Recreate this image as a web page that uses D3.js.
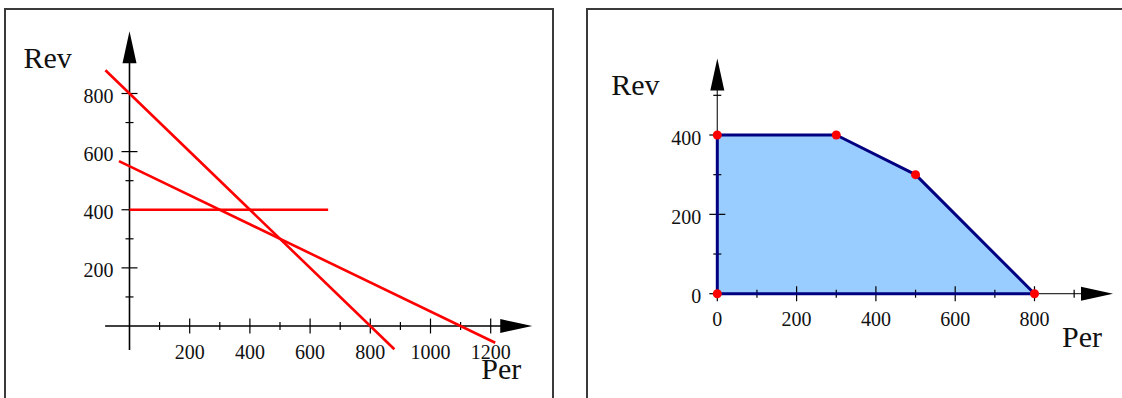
<!DOCTYPE html>
<html>
<head>
<meta charset="utf-8">
<script src="https://cdn.jsdelivr.net/npm/d3@7"></script>
<style>
  body { margin: 0; background: #fff; }
  svg { display: block; }
  text { font-family: 'Liberation Serif', 'Times New Roman', serif; fill: #111; }
</style>
</head>
<body>
<div id="chart"></div>
<script>
// left plot: the three constraint lines
var leftXTicks = [200, 400, 600, 800, 1000, 1200];
var leftYTicks = [200, 400, 600, 800];
var lineA = [{ per: -80, rev: 880 }, { per: 880, rev: -80 }];
var lineB = [{ per: -35, rev: 567.5 }, { per: 1215, rev: -57.5 }];
var lineC = [{ per: 0, rev: 400 }, { per: 660, rev: 400 }];

// right plot: feasible region
var regionPer = [0, 0, 300, 500, 800];
var regionRev = [0, 400, 400, 300, 0];
var rightXTicks = [0, 200, 400, 600, 800];
var rightYTicks = [0, 200, 400];

var W = 1122, H = 398;
var svg = d3.select('#chart').append('svg')
  .attr('width', W)
  .attr('height', H);

// panel frames
svg.append('rect')
  .attr('x', 5).attr('y', 9).attr('width', 548).attr('height', 420)
  .attr('fill', 'none').attr('stroke', '#3a3a3a').attr('stroke-width', 2);
svg.append('rect')
  .attr('x', 587).attr('y', 9).attr('width', 560).attr('height', 420)
  .attr('fill', 'none').attr('stroke', '#3a3a3a').attr('stroke-width', 2);

function drawAxes(g, x, y, opt) {
  var x0 = x(0), y0 = y(0);
  var xTip = x(opt.xMax), yTip = y(opt.yMax);

  // axis lines
  g.append('line')
    .attr('x1', x(opt.xMin)).attr('x2', xTip - 20)
    .attr('y1', y0).attr('y2', y0)
    .attr('stroke', opt.color).attr('stroke-width', opt.width);
  g.append('line')
    .attr('x1', x0).attr('x2', x0)
    .attr('y1', y(opt.yMin)).attr('y2', yTip + 20)
    .attr('stroke', opt.color).attr('stroke-width', opt.width);

  // arrow heads
  g.append('path')
    .attr('d', 'M' + xTip + ',' + y0 + 'L' + (xTip - 32) + ',' + (y0 - 7) + 'L' + (xTip - 32) + ',' + (y0 + 7) + 'Z')
    .attr('fill', '#000');
  g.append('path')
    .attr('d', 'M' + x0 + ',' + yTip + 'L' + (x0 - 7) + ',' + (yTip + 32) + 'L' + (x0 + 7) + ',' + (yTip + 32) + 'Z')
    .attr('fill', '#000');

  // ticks, major and minor, crossing the axis
  g.selectAll('line.xtick')
      .data(opt.xTickVals)
    .enter().append('line')
      .attr('class', 'xtick')
      .attr('x1', function(d) { return x(d); })
      .attr('x2', function(d) { return x(d); })
      .attr('y1', function(d) { return y0 - (d % 200 == 0 ? 7.5 : 4); })
      .attr('y2', function(d) { return y0 + (d % 200 == 0 ? 7.5 : 4); })
      .attr('stroke', '#000').attr('stroke-width', 1.2);
  g.selectAll('line.ytick')
      .data(opt.yTickVals)
    .enter().append('line')
      .attr('class', 'ytick')
      .attr('y1', function(d) { return y(d); })
      .attr('y2', function(d) { return y(d); })
      .attr('x1', function(d) { return x0 - (d % 200 == 0 ? 8 : 4); })
      .attr('x2', function(d) { return x0 + (d % 200 == 0 ? 8 : 4); })
      .attr('stroke', '#000').attr('stroke-width', 1.2);

  // tick labels
  g.selectAll('text.xlab')
      .data(opt.xLabels)
    .enter().append('text')
      .attr('class', 'xlab')
      .attr('x', function(d) { return x(d); })
      .attr('y', y0 + 32.5)
      .attr('text-anchor', 'middle')
      .attr('font-size', '20px')
      .text(function(d) { return d; });
  g.selectAll('text.ylab')
      .data(opt.yLabels)
    .enter().append('text')
      .attr('class', 'ylab')
      .attr('x', x0 - 16)
      .attr('y', function(d) { return y(d) + 9.5; })
      .attr('text-anchor', 'end')
      .attr('font-size', '20px')
      .text(function(d) { return d; });

  // axis titles
  g.append('text')
    .attr('x', xTip - 51)
    .attr('y', y0 + 53)
    .attr('font-size', '30px')
    .text('Per');
  g.append('text')
    .attr('x', x0 - 106)
    .attr('y', yTip + 37)
    .attr('font-size', '30px')
    .text('Rev');
}

// ---- left panel
var xL = d3.scaleLinear().domain([0, 1200]).range([129.5, 490.7]);
var yL = d3.scaleLinear().domain([0, 800]).range([326, 93.5]);
var left = svg.append('g');

drawAxes(left, xL, yL, {
  xMin: -81, xMax: 1338, yMin: -83, yMax: 1014,
  color: '#000', width: 1.6,
  xTickVals: d3.range(100, 1300, 100),
  yTickVals: d3.range(100, 900, 100),
  xLabels: leftXTicks, yLabels: leftYTicks
});

var lineL = d3.line()
  .x(function(d) { return xL(d.per); })
  .y(function(d) { return yL(d.rev); });

left.selectAll('path.constraint')
    .data([lineA, lineB, lineC])
  .enter().append('path')
    .attr('class', 'constraint')
    .attr('d', lineL)
    .attr('fill', 'none')
    .attr('stroke', '#ff0000')
    .attr('stroke-width', 2.6);

// ---- right panel
var xR = d3.scaleLinear().domain([0, 800]).range([717.3, 1034.5]);
var yR = d3.scaleLinear().domain([0, 400]).range([293.7, 135]);
var right = svg.append('g');

var region = regionPer.map(function(p, i) { return { per: p, rev: regionRev[i] }; });
var lineR = d3.line()
  .x(function(d) { return xR(d.per); })
  .y(function(d) { return yR(d.rev); })
  .curve(d3.curveLinearClosed);

right.append('path')
  .datum(region)
  .attr('d', lineR)
  .attr('fill', '#99ccff')
  .attr('stroke', 'none');

drawAxes(right, xR, yR, {
  xMin: 0, xMax: 998, yMin: 0, yMax: 593,
  color: '#333', width: 1.3,
  xTickVals: d3.range(0, 1000, 100),
  yTickVals: d3.range(0, 600, 100),
  xLabels: rightXTicks, yLabels: rightYTicks
});

right.append('path')
  .datum(region)
  .attr('d', lineR)
  .attr('fill', 'none')
  .attr('stroke', '#000080')
  .attr('stroke-width', 3)
  .attr('stroke-linejoin', 'round');

right.selectAll('circle.vertex')
    .data(region)
  .enter().append('circle')
    .attr('class', 'vertex')
    .attr('cx', function(d) { return xR(d.per); })
    .attr('cy', function(d) { return yR(d.rev); })
    .attr('r', 4.5)
    .attr('fill', '#ff0000');
</script>
</body>
</html>
